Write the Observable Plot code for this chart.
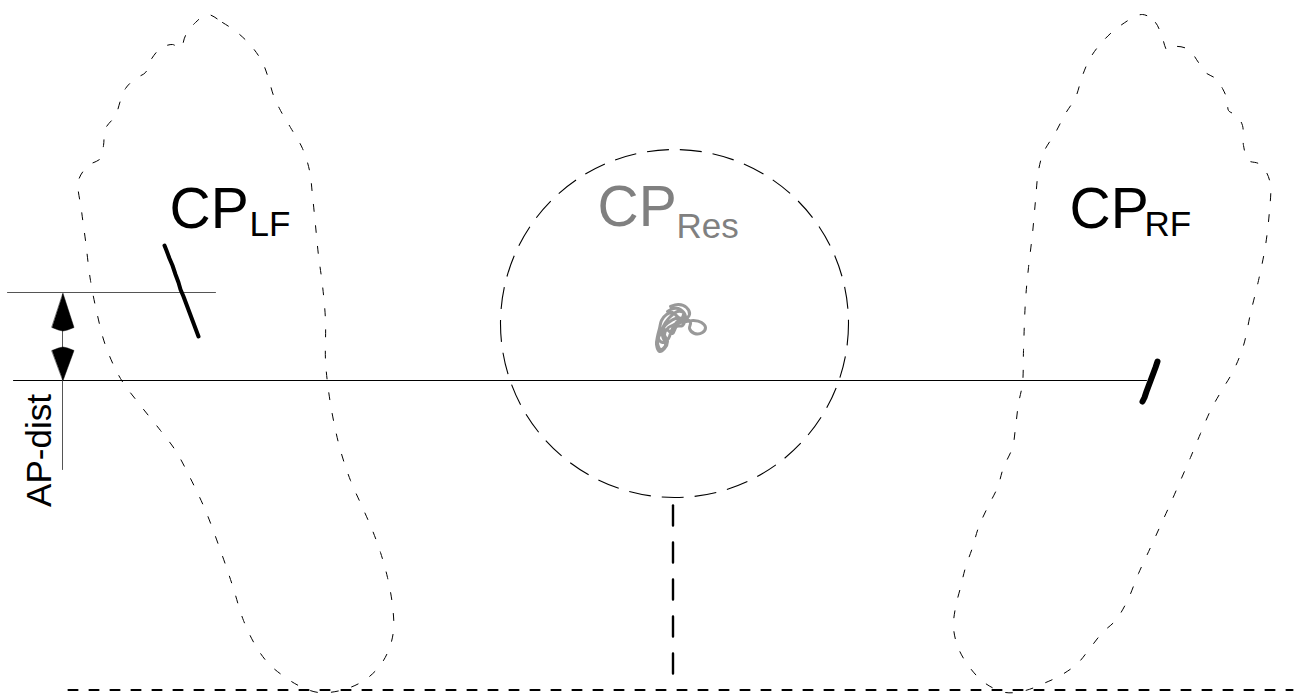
<!DOCTYPE html>
<html><head><meta charset="utf-8">
<script src="https://cdn.jsdelivr.net/npm/d3@7"></script>
<script src="https://cdn.jsdelivr.net/npm/@observablehq/plot@0.6"></script>
<style>body{margin:0;background:#fff}#chart{width:1302px;height:697px}</style>
</head><body><div id="chart"></div>
<script>
// Outline of the left foot (x, y in drawing units, y downward)
const leftFoot = [[207,14],[222,22],[238,33],[252,47],[262,62],[268,78],[273,95],[280,110],[290,127],[302,148],[309,170],[312,195],[315,225],[318,255],[322,285],[325,320],[325,360],[328,390],[333,420],[340,450],[350,480],[362,507],[372,530],[380,552],[387,577],[392,605],[393,630],[388,650],[378,667],[362,681],[340,690],[318,692],[300,686],[285,677],[268,663],[255,645],[243,620],[232,585],[220,550],[205,510],[190,478],[175,450],[160,430],[140,405],[120,378],[105,345],[97,315],[90,280],[85,240],[81,210],[78,180],[88,165],[100,158],[103,145],[105,128],[115,115],[120,100],[125,88],[135,78],[145,72],[150,60],[160,48],[172,44],[180,48],[185,35],[195,22]];
// Outline of the right foot
const rightFoot = [[1142,14],[1155,22],[1162,38],[1167,50],[1175,46],[1188,49],[1198,62],[1205,72],[1215,78],[1222,88],[1227,100],[1228,110],[1236,115],[1242,125],[1243,145],[1248,160],[1258,163],[1266,172],[1270,185],[1269,210],[1265,245],[1258,280],[1250,313],[1243,345],[1233,370],[1220,392],[1210,410],[1200,433],[1190,457],[1180,480],[1170,503],[1160,525],[1150,547],[1138,573],[1127,600],[1115,620],[1102,632],[1090,647],[1077,663],[1060,675],[1043,683],[1025,690],[1005,692],[985,683],[970,668],[958,648],[953,627],[955,607],[960,587],[965,567],[972,547],[978,527],[987,507],[997,487],[1003,467],[1012,447],[1015,427],[1018,403],[1022,383],[1023,350],[1025,300],[1028,267],[1032,233],[1035,200],[1038,170],[1043,152],[1055,132],[1065,113],[1075,97],[1082,75],[1090,57],[1103,40],[1120,25]];
// Centre-of-pressure traces
const cpLeftFoot = [[164,245],[166,250],[169,258],[172,265],[175,274],[178,282],[180,289],[183,296],[186,304],[189,312],[192,320],[195,328],[198,336]];
const cpRightFoot = [[1157,361],[1155,367],[1152,375],[1149,383],[1146,391],[1144,397],[1142,401]];
const cpResultant = [[670,306],[678,304],[686,307],[689,314],[684,319],[678,317],[672,312],[666,314],[661,320],[659,328],[657,336],[656,344],[659,351],[664,348],[667,341],[664,334],[668,327],[674,324],[680,322],[686,321],[693,320],[701,322],[705,327],[702,332],[694,333],[689,328],[690,322],[684,318],[677,321],[671,330],[668,338],[662,342],[658,338],[661,330],[665,322],[670,316],[677,311],[683,312],[681,318],[675,318],[668,322],[663,327],[662,335],[665,345],[660,349],[657,342],[660,333],[666,329],[672,333],[676,326],[682,325],[685,316],[680,309],[673,308],[667,311]];
// Circle around the resultant CP
const circleCenter = [{x:674, y:323}];
const circleRadius = 174;
// Reference lines
const baseLine = [[68,689.5],[1292,689.5]];
const centerLine = [[672.5,505],[672.5,689]];
const refLine = [[13,380],[1146,380]];
const upperLine = [[7,292],[215,292]];
const apLine = [[62,294],[62,469]];
const arrowUp = [[62.5,293],[73.5,327],[67,329.5],[62.5,330.5],[58,329.5],[51.5,327]];
const arrowDown = [[62.5,380],[73.5,350],[67,347.5],[62.5,346.5],[58,347.5],[51.5,350]];
// Labels
const mainLabels = [{x:169, y:227, t:"CP", c:"#000"},{x:597, y:225, t:"CP", c:"#808080"},{x:1069, y:227, t:"CP", c:"#000"}];
const subLabels = [{x:249, y:235, t:"LF", c:"#000"},{x:676, y:237, t:"Res", c:"#808080"},{x:1144, y:235, t:"RF", c:"#000"}];
const sideLabel = [{x:50, y:450, t:"AP-dist"}];

const X = d => d[0], Y = d => d[1];
const plot = Plot.plot({
  width: 1302, height: 697, margin: 0,
  x: {domain: [0, 1302], range: [0, 1302], axis: null},
  y: {domain: [0, 697], range: [0, 697], axis: null},
  style: {fontFamily: "'Liberation Sans', Arial, sans-serif", background: "#fff", overflow: "visible"},
  marks: [
    Plot.line(leftFoot, {x: X, y: Y, curve: "catmull-rom-closed", stroke: "#000", strokeWidth: 1, strokeDasharray: "7,14"}),
    Plot.line(rightFoot, {x: X, y: Y, curve: "catmull-rom-closed", stroke: "#000", strokeWidth: 1, strokeDasharray: "7,14"}),
    Plot.dot(circleCenter, {x: "x", y: "y", r: circleRadius, fill: "none", stroke: "#000", strokeWidth: 1.1, strokeDasharray: "22,11"}),
    Plot.line(centerLine, {x: X, y: Y, stroke: "#000", strokeWidth: 2.4, strokeDasharray: "20,17"}),
    Plot.line(baseLine, {x: X, y: Y, stroke: "#000", strokeWidth: 2.2, strokeDasharray: "9,12"}),
    Plot.line(refLine, {x: X, y: Y, stroke: "#000", strokeWidth: 1}),
    Plot.line(upperLine, {x: X, y: Y, stroke: "#555", strokeWidth: 1}),
    Plot.line(apLine, {x: X, y: Y, stroke: "#555", strokeWidth: 1}),
    Plot.line(arrowUp, {x: X, y: Y, curve: "linear-closed", fill: "#000", stroke: "#000", strokeWidth: 0.5}),
    Plot.line(arrowDown, {x: X, y: Y, curve: "linear-closed", fill: "#000", stroke: "#000", strokeWidth: 0.5}),
    Plot.line(cpResultant, {x: X, y: Y, curve: "catmull-rom", stroke: "#999", strokeWidth: 3, strokeLinejoin: "round"}),
    Plot.line(cpLeftFoot, {x: X, y: Y, stroke: "#000", strokeWidth: 4, strokeLinecap: "round"}),
    Plot.line(cpRightFoot, {x: X, y: Y, stroke: "#000", strokeWidth: 6, strokeLinecap: "round"}),
    Plot.text(mainLabels, {x: "x", y: "y", text: "t", fill: "c", fontSize: 57, textAnchor: "start", lineAnchor: "bottom"}),
    Plot.text(subLabels, {x: "x", y: "y", text: "t", fill: "c", fontSize: 35, textAnchor: "start", lineAnchor: "bottom"}),
    Plot.text(sideLabel, {x: "x", y: "y", text: "t", fill: "#000", fontSize: 35, rotate: -90, textAnchor: "middle", lineAnchor: "bottom"})
  ]
});
document.getElementById("chart").appendChild(plot);
</script>
</body></html>
